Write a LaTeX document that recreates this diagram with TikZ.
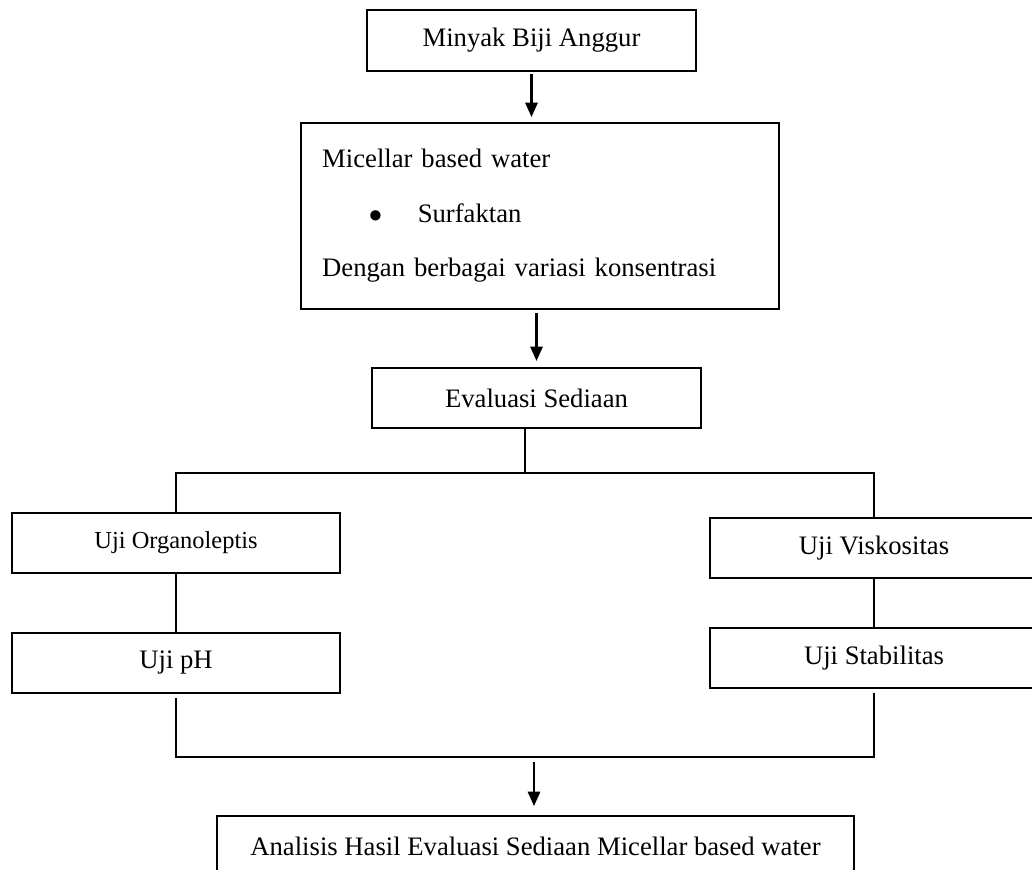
\documentclass[tikz,border=0pt]{standalone}
\usepackage{fontspec}
\setmainfont{Liberation Serif}
\usetikzlibrary{arrows.meta}
\begin{document}
\begin{tikzpicture}[x=0.45pt,y=-0.45pt,
    box/.style={draw,line width=0.9pt,rectangle,inner sep=0pt,minimum height=27pt,font=\fontsize{12}{14.5}\selectfont},
    arr/.style={line width=1.1pt,-{Triangle[width=5.5pt,length=6.5pt]}},
    conn/.style={line width=0.9pt}]
            \clip (0,0) rectangle (1032,870);
            \node[box,minimum width=148pt,minimum height=27.5pt] (minyak) at (531.5,40.5) {Minyak Biji Anggur};
            \node[box,text width=196pt,inner xsep=9.45pt,minimum height=83.7pt,align=left] (micellar) at (540,216)
                {Micellar based water\\[10pt]\hspace*{21pt}$\bullet$\hspace{16pt}Surfaktan\\[10pt]Dengan berbagai variasi konsentrasi};
            \node[box,minimum width=148pt] (evaluasi) at (536.5,398) {Evaluasi Sediaan};
            \node[box,minimum width=147.6pt,font=\fontsize{11}{13}\selectfont] (organo) at (176,543) {Uji Organoleptis};
            \node[box,minimum width=147.6pt] (ph) at (176,663) {Uji pH};
            \node[box,minimum width=147.6pt] (visko) at (874,548) {Uji Viskositas};
            \node[box,minimum width=147.6pt] (stab) at (874,658) {Uji Stabilitas};
            \node[box,minimum width=286.6pt] (analisis) at (535.5,846) {Analisis Hasil Evaluasi Sediaan Micellar based water};
            \coordinate (split) at (525,473);
            \coordinate (join) at (534,757);
            \draw[arr,shorten <=1pt,shorten >=2.2pt] (minyak.south) -- (minyak.south |- micellar.north);
            \draw[arr,shorten <=1.3pt,shorten >=2.7pt] (micellar.south -| evaluasi.north) -- (evaluasi.north);
            \draw[conn] (evaluasi.south -| split) -- (split);
            \draw[conn] (organo.north) |- (split) -| (visko.north);
            \draw[conn] (organo) -- (ph);
            \draw[conn] (visko) -- (stab);
            \draw[conn,shorten <=1.8pt] (ph.south) |- (join);
            \draw[conn,shorten >=1.8pt] (join) -| (stab.south);
            \draw[arr,shorten <=2.2pt,shorten >=4pt] (join) -- (join |- analisis.north);
\end{tikzpicture}
\end{document}
